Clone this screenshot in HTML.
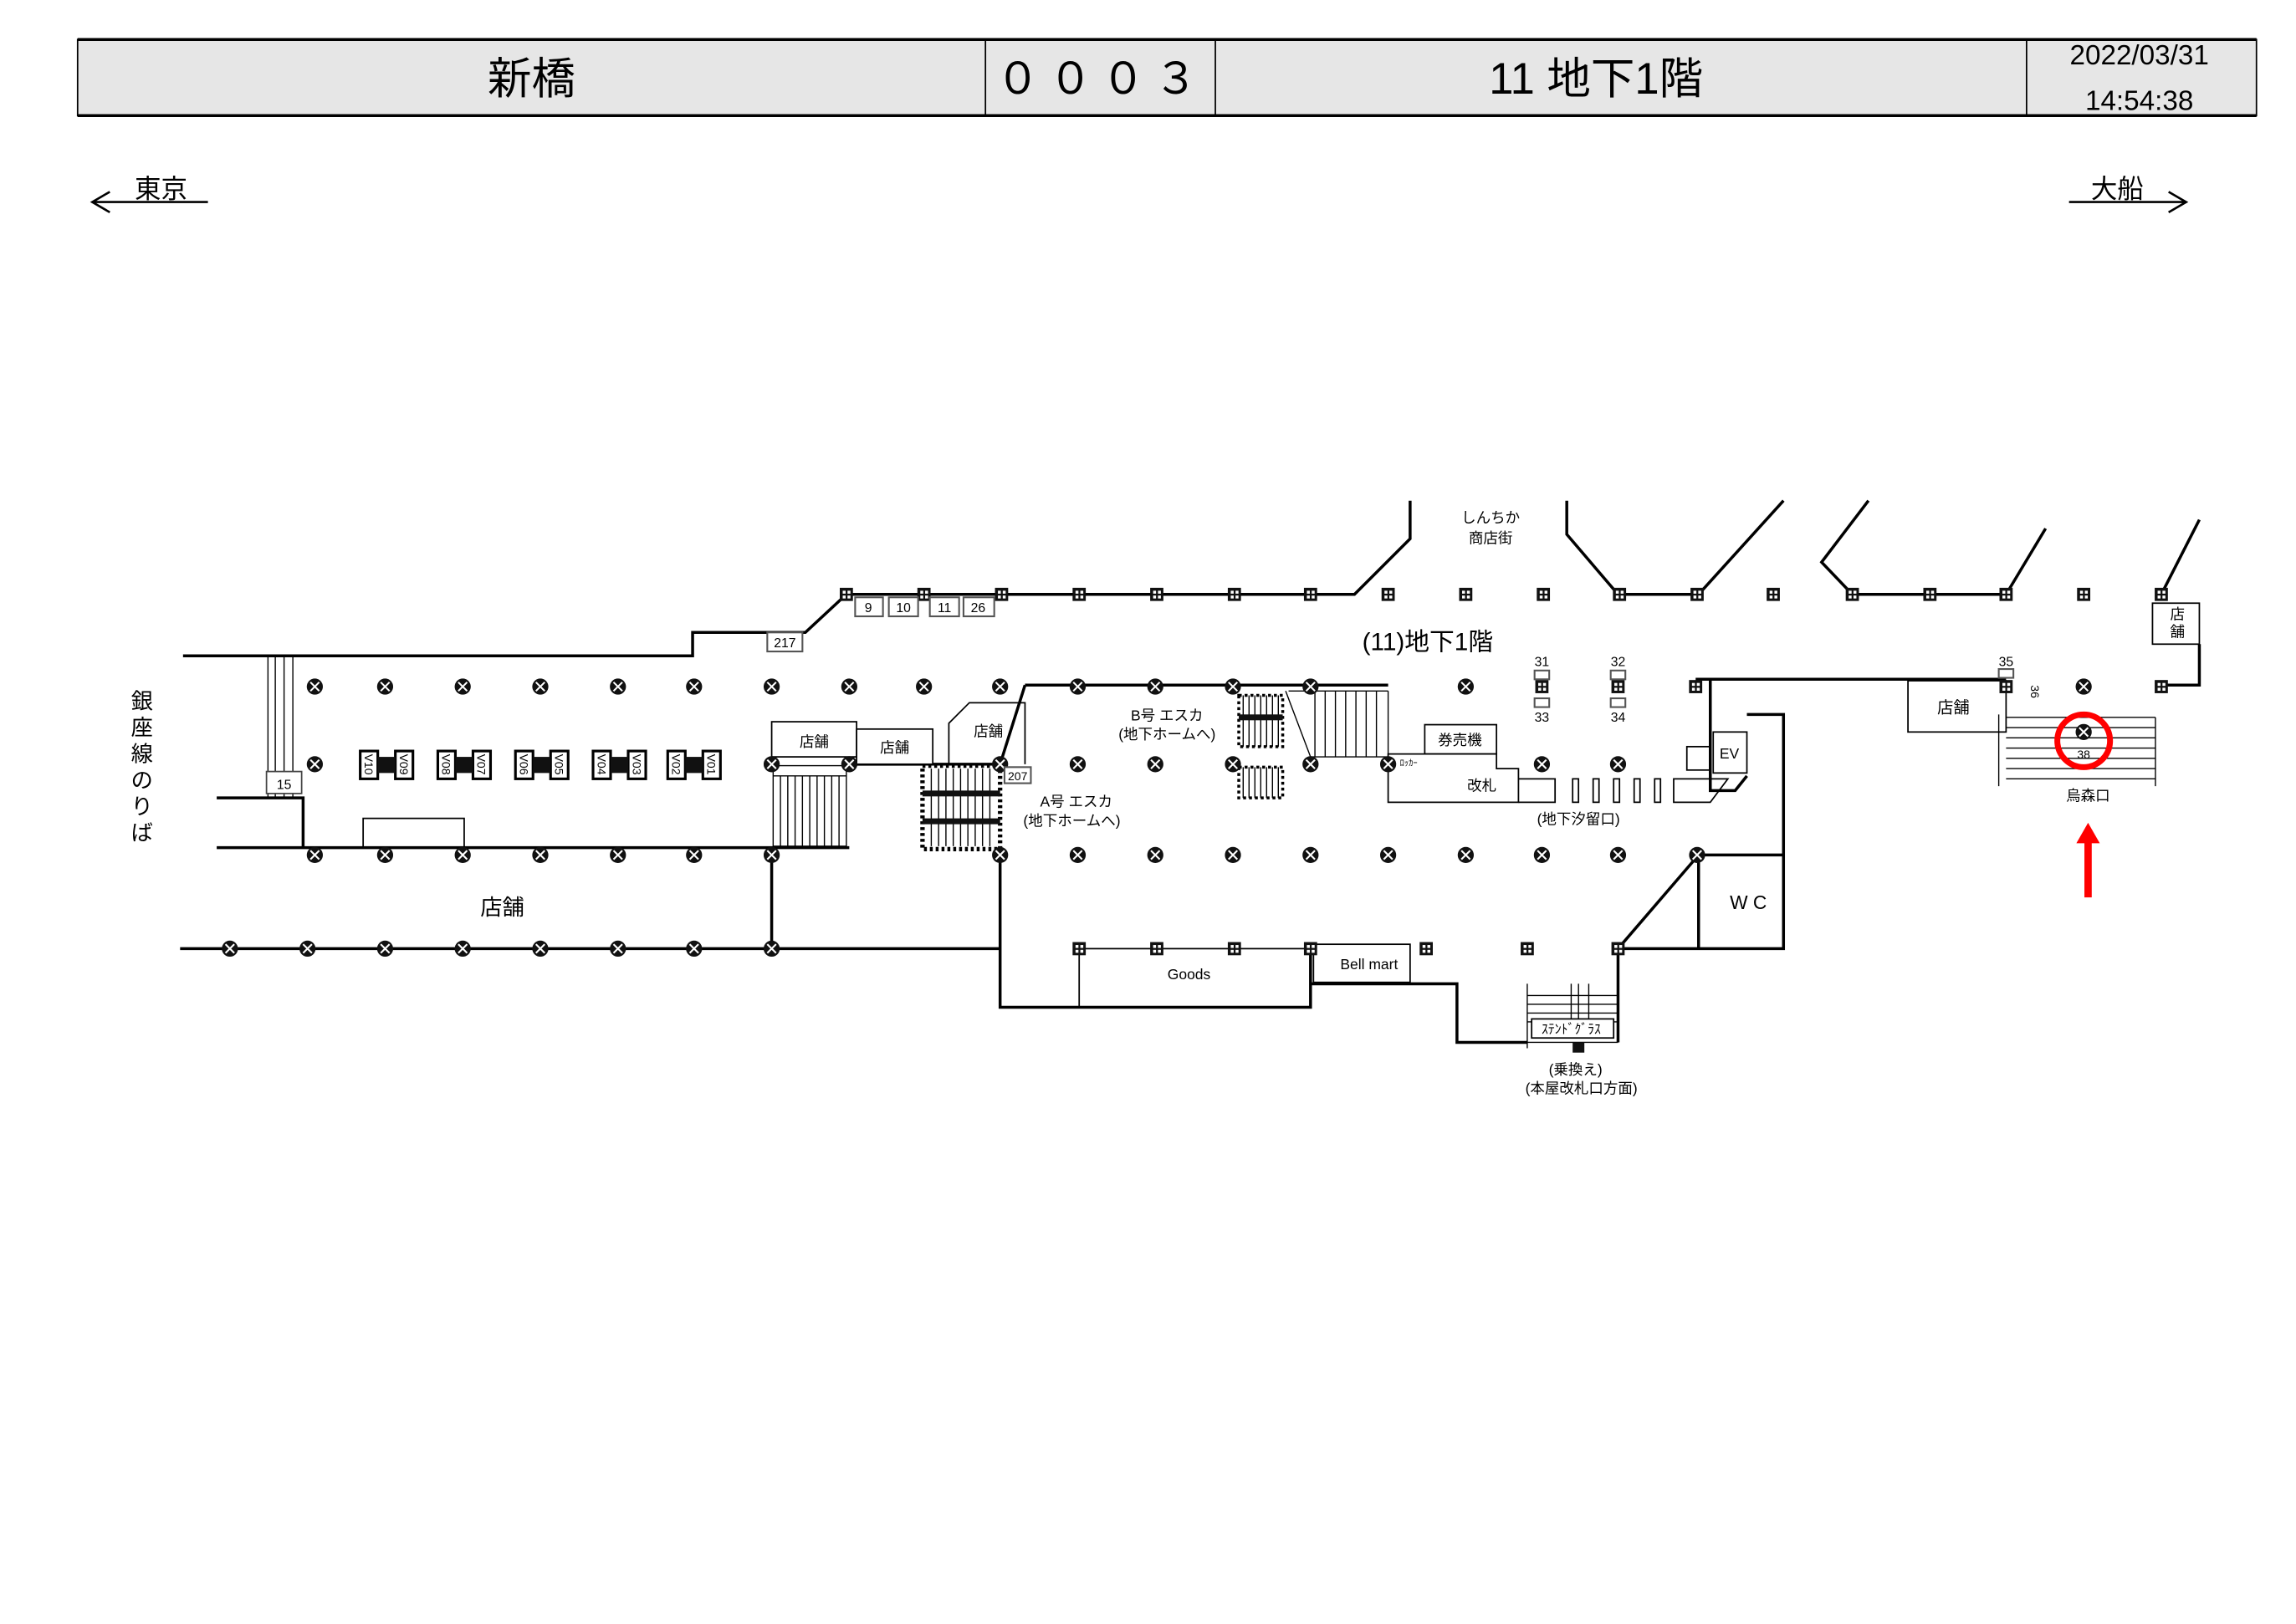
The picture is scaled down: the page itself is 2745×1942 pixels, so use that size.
<!DOCTYPE html>
<html><head><meta charset="utf-8"><style>
html,body{margin:0;padding:0;background:#fff}
svg{display:block}
text{font-family:"Liberation Sans","Noto Sans CJK JP",sans-serif;fill:#000}
</style></head><body>
<svg width="2745" height="1942" viewBox="0 0 1568 1109.3" xmlns="http://www.w3.org/2000/svg">
<defs>
<g id="c"><circle r="5.5" fill="#111"/><path d="M-3,-3L3,3M3,-3L-3,3" stroke="#fff" stroke-width="1.2"/></g>
<g id="s"><rect x="-4.5" y="-4.5" width="9" height="9" fill="#111"/><rect x="-2.5" y="-2.5" width="2" height="2" fill="#fff"/><rect x="0.8" y="0.8" width="2" height="2" fill="#fff"/><rect x="0.8" y="-2.5" width="2" height="2" fill="#fff"/><rect x="-2.5" y="0.8" width="2" height="2" fill="#fff"/></g>
</defs>
<rect x="53" y="27" width="1488" height="52" fill="#e6e6e6" stroke="#000" stroke-width="1"/>
<line x1="53" y1="27" x2="1541" y2="27" stroke="#000" stroke-width="2"/>
<line x1="53" y1="79" x2="1541" y2="79" stroke="#000" stroke-width="2"/>
<g stroke="#000" stroke-width="1"><line x1="673" y1="27" x2="673" y2="79"/><line x1="830" y1="27" x2="830" y2="79"/><line x1="1384" y1="27" x2="1384" y2="79"/></g>
<text x="363" y="64" font-size="30" text-anchor="middle">新橋</text>
<text x="752" y="64" font-size="30" text-anchor="middle" letter-spacing="6">０００３</text>
<text x="1090" y="64" font-size="30" text-anchor="middle">11 地下1階</text>
<text x="1461" y="44" font-size="19" text-anchor="middle">2022/03/31</text>
<text x="1461" y="75" font-size="19" text-anchor="middle">14:54:38</text>
<text x="110" y="135" font-size="18" text-anchor="middle">東京</text>
<path d="M142,138H63M75,131L63,138L75,145" stroke="#000" stroke-width="1.5" fill="none"/>
<text x="1446" y="135" font-size="18" text-anchor="middle">大船</text>
<path d="M1413,138H1493M1481,131L1493,138L1481,145" stroke="#000" stroke-width="1.5" fill="none"/>
<g stroke="#000" stroke-width="2" fill="none">
<path d="M125,448H473V432H550L578,406H925L963,368V342"/>
<path d="M1070,342V365L1105,406H1160L1218,342"/>
<path d="M1276,342L1244,384L1265,406H1370L1397,361"/>
<path d="M1476,406L1502,355"/>
<path d="M1502,440V468H1476"/>
<path d="M1158,464H1370"/>
<path d="M700,468H948"/>
<path d="M683,522L700,468"/>
<path d="M148,545H207V579"/>
<path d="M148,579H580"/>
<path d="M123,648H683"/>
<path d="M527,579V648"/>
<path d="M683,584V688H895V648"/>
<path d="M895,672H995V712H1043"/>
<path d="M1105,648V712"/>
<path d="M1105,648H1218V488H1193"/>
<path d="M1160,584L1105,648"/>
<path d="M1160,584V648"/>
<path d="M1160,584H1218"/>
<path d="M1168,464V540H1185L1193,530"/>
<path d="M580,522H683"/>
</g>
<g stroke="#000" stroke-width="1" fill="none">
<rect x="1470" y="412" width="32" height="28" fill="#fff"/>
<rect x="248" y="559" width="69" height="20"/>
<rect x="527" y="493" width="58" height="24" fill="#fff"/>
<rect x="585" y="498" width="52" height="24" fill="#fff"/>
<path d="M648,522V494L662,480H700V522"/>
<rect x="737" y="648" width="158" height="40"/>
<rect x="897" y="645" width="66" height="26" fill="#fff"/>
<rect x="973" y="495" width="49" height="20"/>
<path d="M948,515H1022V525H1037V548H948Z"/>
<rect x="1170" y="500" width="23" height="28"/>
<rect x="1152" y="510" width="16" height="16"/>
<rect x="1303" y="465" width="67" height="35"/>
<path d="M1037,532H1062V548H1037"/>
<path d="M1143,532H1180L1168,548H1143Z"/>
</g>
<g stroke="#000" stroke-width="1" fill="#fff">
<rect x="1074" y="532" width="4" height="16"/><rect x="1088" y="532" width="4" height="16"/><rect x="1102" y="532" width="4" height="16"/><rect x="1116" y="532" width="4" height="16"/><rect x="1130" y="532" width="4" height="16"/>
</g>
<g stroke="#000" stroke-width="0.8"><line x1="183" y1="448" x2="183" y2="545"/><line x1="188" y1="448" x2="188" y2="545"/><line x1="194" y1="448" x2="194" y2="545"/><line x1="200" y1="448" x2="200" y2="545"/></g>
<rect x="182" y="527" width="24" height="15" fill="#fff" stroke="#444"/>
<text x="194" y="539" font-size="9" text-anchor="middle">15</text>
<g stroke="#000" stroke-width="0.8" fill="none"><rect x="528" y="523" width="50" height="55"/>
<path d="M533,530V578M538,530V578M543,530V578M548,530V578M553,530V578M558,530V578M563,530V578M568,530V578M573,530V578M528,530H578"/></g>
<rect x="630" y="523" width="53" height="57" fill="#fff" stroke="#000" stroke-width="3" stroke-dasharray="2 2"/>
<g stroke="#000" stroke-width="0.8"><path d="M636,525V578M641,525V578M646,525V578M651,525V578M656,525V578M661,525V578M666,525V578M671,525V578M676,525V578"/></g>
<rect x="630" y="540" width="53" height="4" fill="#111"/><rect x="630" y="559" width="53" height="4" fill="#111"/>
<g stroke="#000" stroke-width="0.8"><path d="M849,475V510M853,475V510M857,475V510M861,475V510M865,475V510M869,475V510M873,475V510M849,524V545M853,524V545M857,524V545M861,524V545M865,524V545M869,524V545M873,524V545"/></g>
<rect x="846" y="475" width="30" height="35" fill="none" stroke="#000" stroke-width="2" stroke-dasharray="2 2"/>
<rect x="846" y="524" width="30" height="21" fill="none" stroke="#000" stroke-width="2" stroke-dasharray="2 2"/>
<rect x="846" y="488" width="30" height="4" fill="#111"/>
<g stroke="#000" stroke-width="0.8" fill="none"><path d="M878,472L895,517H948V472M898,472V517M905,472V517M912,472V517M919,472V517M926,472V517M933,472V517M940,472V517M880,472H948"/></g>
<g stroke="#000" stroke-width="0.8" fill="none"><path d="M1365,488V537M1370,490H1472M1370,497H1472M1370,504H1472M1370,511H1472M1370,518H1472M1370,525H1472M1370,532H1472M1472,490V537"/></g>
<g stroke="#000" stroke-width="0.8" fill="none"><path d="M1043,672V716M1043,680H1105M1043,686H1105M1043,692H1105M1043,698H1105M1043,712H1105M1073,672V696M1078,672V696M1085,672V696"/></g>
<rect x="1046" y="696" width="56" height="13" fill="#fff" stroke="#000" stroke-width="1"/>
<rect x="1074" y="712" width="8" height="7" fill="#111"/>
<g>
<use href="#s" x="578" y="406"/><use href="#s" x="631" y="406"/><use href="#s" x="684" y="406"/><use href="#s" x="737" y="406"/><use href="#s" x="790" y="406"/><use href="#s" x="843" y="406"/><use href="#s" x="895" y="406"/><use href="#s" x="948" y="406"/><use href="#s" x="1001" y="406"/><use href="#s" x="1054" y="406"/><use href="#s" x="1106" y="406"/><use href="#s" x="1159" y="406"/><use href="#s" x="1211" y="406"/><use href="#s" x="1265" y="406"/><use href="#s" x="1318" y="406"/><use href="#s" x="1370" y="406"/><use href="#s" x="1423" y="406"/><use href="#s" x="1476" y="406"/>
<use href="#c" x="215" y="469"/><use href="#c" x="263" y="469"/><use href="#c" x="316" y="469"/><use href="#c" x="369" y="469"/><use href="#c" x="422" y="469"/><use href="#c" x="474" y="469"/><use href="#c" x="527" y="469"/><use href="#c" x="580" y="469"/><use href="#c" x="631" y="469"/><use href="#c" x="683" y="469"/><use href="#c" x="736" y="469"/><use href="#c" x="789" y="469"/><use href="#c" x="842" y="469"/><use href="#c" x="895" y="469"/><use href="#c" x="1001" y="469"/><use href="#c" x="1423" y="469"/>
<use href="#s" x="1158" y="469"/><use href="#s" x="1053" y="469"/><use href="#s" x="1105" y="469"/><use href="#s" x="1370" y="469"/><use href="#s" x="1476" y="469"/>
<use href="#c" x="215" y="522"/><use href="#c" x="527" y="522"/><use href="#c" x="580" y="522"/><use href="#c" x="683" y="522"/><use href="#c" x="736" y="522"/><use href="#c" x="789" y="522"/><use href="#c" x="842" y="522"/><use href="#c" x="895" y="522"/><use href="#c" x="948" y="522"/><use href="#c" x="1053" y="522"/><use href="#c" x="1105" y="522"/>
<use href="#c" x="215" y="584"/><use href="#c" x="263" y="584"/><use href="#c" x="316" y="584"/><use href="#c" x="369" y="584"/><use href="#c" x="422" y="584"/><use href="#c" x="474" y="584"/><use href="#c" x="527" y="584"/><use href="#c" x="683" y="584"/><use href="#c" x="736" y="584"/><use href="#c" x="789" y="584"/><use href="#c" x="842" y="584"/><use href="#c" x="895" y="584"/><use href="#c" x="948" y="584"/><use href="#c" x="1001" y="584"/><use href="#c" x="1053" y="584"/><use href="#c" x="1105" y="584"/><use href="#c" x="1159" y="584"/>
<use href="#c" x="157" y="648"/><use href="#c" x="210" y="648"/><use href="#c" x="263" y="648"/><use href="#c" x="316" y="648"/><use href="#c" x="369" y="648"/><use href="#c" x="422" y="648"/><use href="#c" x="474" y="648"/><use href="#c" x="527" y="648"/>
<use href="#s" x="737" y="648"/><use href="#s" x="790" y="648"/><use href="#s" x="843" y="648"/><use href="#s" x="895" y="648"/><use href="#s" x="974" y="648"/><use href="#s" x="1043" y="648"/><use href="#s" x="1105" y="648"/>
<use href="#c" x="1423" y="500"/>
</g>
<g stroke="#555" stroke-width="1.2" fill="#fff">
<rect x="584" y="408" width="19" height="13"/><rect x="607" y="408" width="20" height="13"/><rect x="635" y="408" width="20" height="13"/><rect x="658" y="408" width="21" height="13"/><rect x="524" y="432" width="24" height="13"/><rect x="686" y="524" width="18" height="11"/>
<rect x="1048" y="458" width="10" height="6"/><rect x="1048" y="477" width="10" height="6"/><rect x="1100" y="458" width="10" height="6"/><rect x="1100" y="477" width="10" height="6"/><rect x="1365" y="457" width="10" height="6"/>
</g>
<g font-size="9" text-anchor="middle">
<text x="593" y="418">9</text><text x="617" y="418">10</text><text x="645" y="418">11</text><text x="668" y="418">26</text><text x="536" y="442">217</text><text x="695" y="533" font-size="8">207</text>
<text x="1053" y="455">31</text><text x="1105" y="455">32</text><text x="1053" y="493">33</text><text x="1105" y="493">34</text><text x="1370" y="455">35</text><text x="1423" y="518" font-size="8">38</text>
</g>
<text x="1387" y="468" font-size="8" transform="rotate(90 1387 468)">36</text>
<!-- V boxes -->
<g fill="#fff" stroke="#000" stroke-width="1.8">
<rect x="246" y="513" width="12" height="19"/><rect x="270" y="513" width="12" height="19"/><rect x="299" y="513" width="12" height="19"/><rect x="323" y="513" width="12" height="19"/><rect x="352" y="513" width="12" height="19"/><rect x="376" y="513" width="12" height="19"/><rect x="405" y="513" width="12" height="19"/><rect x="429" y="513" width="12" height="19"/><rect x="456" y="513" width="12" height="19"/><rect x="480" y="513" width="12" height="19"/>
</g>
<g fill="#111"><rect x="258" y="517" width="12" height="11"/><rect x="311" y="517" width="12" height="11"/><rect x="364" y="517" width="12" height="11"/><rect x="417" y="517" width="12" height="11"/><rect x="468" y="517" width="12" height="11"/></g>
<g font-size="8">
<text transform="translate(249,515) rotate(90)">V10</text><text transform="translate(273,515) rotate(90)">V09</text>
<text transform="translate(302,515) rotate(90)">V08</text><text transform="translate(326,515) rotate(90)">V07</text>
<text transform="translate(355,515) rotate(90)">V06</text><text transform="translate(379,515) rotate(90)">V05</text>
<text transform="translate(408,515) rotate(90)">V04</text><text transform="translate(432,515) rotate(90)">V03</text>
<text transform="translate(459,515) rotate(90)">V02</text><text transform="translate(483,515) rotate(90)">V01</text>
</g>
<g text-anchor="middle">
<text x="1018" y="357" font-size="10">しんちか</text><text x="1018" y="371" font-size="10">商店街</text>
<text x="975" y="444" font-size="17">(11)地下1階</text>
<text x="797" y="492" font-size="10">B号 エスカ</text><text x="797" y="505" font-size="10">(地下ホームへ)</text>
<text x="735" y="551" font-size="10">A号 エスカ</text><text x="732" y="564" font-size="10">(地下ホームへ)</text>
<text x="1078" y="563" font-size="10">(地下汐留口)</text>
<text x="1194" y="621" font-size="13">W C</text>
<text x="812" y="669" font-size="10">Goods</text>
<text x="935" y="662" font-size="10">Bell mart</text>
<text x="1073" y="706" font-size="9">ｽﾃﾝﾄﾞｸﾞﾗｽ</text>
<text x="1076" y="734" font-size="10">(乗換え)</text><text x="1080" y="747" font-size="10">(本屋改札口方面)</text>
<text x="343" y="625" font-size="15">店舗</text>
<text x="556" y="510" font-size="10">店舗</text><text x="611" y="514" font-size="10">店舗</text><text x="675" y="503" font-size="10">店舗</text>
<text x="1334" y="487" font-size="11">店舗</text>
<text x="1487" y="423" font-size="10">店</text><text x="1487" y="435" font-size="10">舗</text>
<text x="997" y="509" font-size="10">券売機</text>
<text x="962" y="523" font-size="6">ﾛｯｶｰ</text>
<text x="1012" y="540" font-size="10">改札</text>
<text x="1181" y="518" font-size="10">EV</text>
<text x="1426" y="547" font-size="10">烏森口</text>
<text x="97" y="484" font-size="15">銀</text><text x="97" y="502" font-size="15">座</text><text x="97" y="520" font-size="15">線</text><text x="97" y="538" font-size="15">の</text><text x="97" y="556" font-size="15">り</text><text x="97" y="574" font-size="15">ば</text>
</g>
<circle cx="1423" cy="506" r="18" fill="none" stroke="#f00" stroke-width="4"/>
<path d="M1426,613V575" stroke="#f00" stroke-width="5"/>
<path d="M1418,576L1426,562L1434,576Z" fill="#f00"/>
</svg>
</body></html>
